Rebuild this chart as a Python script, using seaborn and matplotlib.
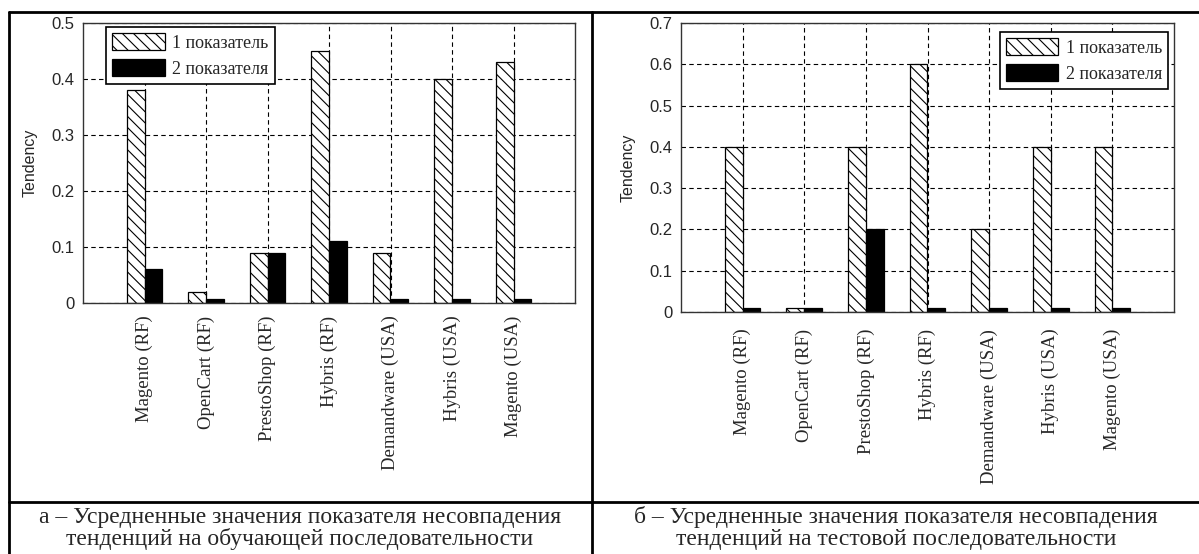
import numpy as np
import pandas as pd
import seaborn as sns
import matplotlib
import matplotlib.pyplot as plt
from matplotlib.lines import Line2D

sns.set_theme(style="white")
plt.rcParams['font.family'] = ['Liberation Serif', 'DejaVu Serif']
plt.rcParams['hatch.linewidth'] = 0.8

#%%
# данные
platforms = ['Magento (RF)', 'OpenCart (RF)', 'PrestoShop (RF)', 'Hybris (RF)',
             'Demandware (USA)', 'Hybris (USA)', 'Magento (USA)']
series_names = ['1 показатель', '2 показателя']

train_1 = [0.38, 0.02, 0.09, 0.45, 0.09, 0.40, 0.43]
train_2 = [0.06, 0.007, 0.09, 0.11, 0.007, 0.007, 0.007]
test_1 = [0.40, 0.01, 0.40, 0.60, 0.20, 0.40, 0.40]
test_2 = [0.01, 0.01, 0.20, 0.01, 0.01, 0.01, 0.01]

train_yticks = [0, 0.1, 0.2, 0.3, 0.4, 0.5]
test_yticks = [0, 0.1, 0.2, 0.3, 0.4, 0.5, 0.6, 0.7]
ytick_labels_train = ['0', '0.1', '0.2', '0.3', '0.4', '0.5']
ytick_labels_test = ['0', '0.1', '0.2', '0.3', '0.4', '0.5', '0.6', '0.7']

caption_a = ['а – Усредненные значения показателя несовпадения',
             'тенденций на обучающей последовательности']
caption_b = ['б – Усредненные значения показателя несовпадения',
             'тенденций на тестовой последовательности']


def long_table(s1, s2):
    return pd.DataFrame({
        'platform': platforms * 2,
        'series': [series_names[0]] * len(platforms) + [series_names[1]] * len(platforms),
        'value': list(s1) + list(s2),
    })


def draw(ax, df, yticks, ylabels, legend_loc, legend_anchor, xpad):
    sns.barplot(data=df, x='platform', y='value', hue='series', order=platforms,
                hue_order=series_names, palette=['white', 'black'], width=0.58,
                edgecolor='black', linewidth=0.9, saturation=1, legend=False,
                errorbar=None, ax=ax)
    for p in ax.containers[0]:
        p.set_hatch('\\\\\\')
    ax.set_xlim(-1, 7)
    ax.set_ylim(yticks[0], yticks[-1])
    ax.set_yticks(yticks)
    ax.set_yticklabels(ylabels, family='Liberation Sans', fontsize=12)
    ax.set_xticks(range(len(platforms)))
    ax.set_xticklabels(platforms, rotation=90, fontsize=13.5)
    ax.tick_params(axis='x', length=0, pad=xpad)
    ax.tick_params(axis='y', length=0, pad=6)
    ax.set_xlabel('')
    ax.set_ylabel('Tendency', family='Liberation Sans', fontsize=11.5, labelpad=10)
    ax.set_axisbelow(True)
    ax.grid(True, color='black', linestyle=(0, (4, 3)), linewidth=0.8)
    for s in ax.spines.values():
        s.set_visible(True)
        s.set_color('#333333')
        s.set_linewidth(1.0)
    leg = ax.legend(ax.containers, series_names, loc=legend_loc, bbox_to_anchor=legend_anchor,
                    borderaxespad=0, fancybox=False, framealpha=1, edgecolor='black',
                    fontsize=13, handlelength=2.9, handleheight=1.05, labelspacing=0.4,
                    handletextpad=0.4, borderpad=0.35)
    leg.get_frame().set_linewidth(1.2)


fig = plt.figure(figsize=(11.99, 5.54), dpi=100)
ax1 = fig.add_axes([83 / 1199, 1 - 303 / 554, 492 / 1199, 280 / 554])
ax2 = fig.add_axes([681 / 1199, 1 - 312 / 554, 493 / 1199, 289 / 554])

draw(ax1, long_table(train_1, train_2), train_yticks, ytick_labels_train,
     'upper left', (0.047, 0.986), 9)
draw(ax2, long_table(test_1, test_2), test_yticks, ytick_labels_test,
     'upper right', (0.988, 0.969), 12)

# рамка таблицы
W, H = 1199, 554
for x0, y0, x1, y1 in [(9, 12, W, 12), (9, 12, 9, H), (592, 12, 592, H), (9, 502, W, 502)]:
    fig.add_artist(Line2D([x0 / W, x1 / W], [1 - y0 / H, 1 - y1 / H], color='black',
                          linewidth=2, transform=fig.transFigure))

for cx, lines in [(300, caption_a), (896, caption_b)]:
    for base_y, line in zip([523, 545], lines):
        fig.text(cx / W, 1 - base_y / H, line, ha='center', va='baseline', fontsize=17)

plt.savefig('out.png', dpi=100)
